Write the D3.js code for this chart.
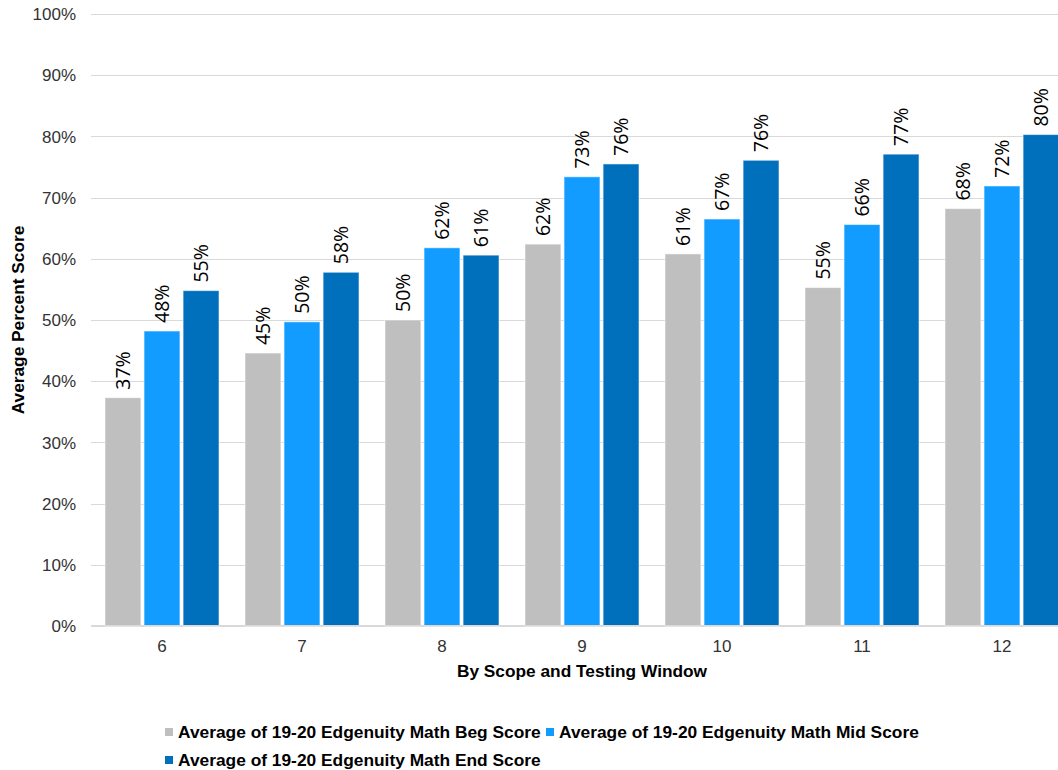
<!DOCTYPE html>
<html><head><meta charset="utf-8">
<script src="https://cdn.jsdelivr.net/npm/d3@7"></script>
<style>
html,body{margin:0;padding:0;background:#fff;overflow:hidden;}
svg{display:block;}
</style></head>
<body>
<svg id="chart" width="1058" height="770"></svg>
<script>
const categories = ["6","7","8","9","10","11","12"];
const seriesNames = [
  "Average of 19-20 Edgenuity Math Beg Score",
  "Average of 19-20 Edgenuity Math Mid Score",
  "Average of 19-20 Edgenuity Math End Score"
];
const begScores = [37.3, 44.6, 50.0, 62.4, 60.8, 55.3, 68.2];
const midScores = [48.2, 49.7, 61.8, 73.4, 66.5, 65.6, 71.9];
const endScores = [54.8, 57.8, 60.6, 75.5, 76.1, 77.1, 80.3];
const yTicks = [0,10,20,30,40,50,60,70,80,90,100];
const colors = ["#BFBFBF", "#129CFF", "#0070BC"];

const series = [begScores, midScores, endScores];
const svg = d3.select("#chart");
const AX = "Liberation Sans, Arial, sans-serif";

const x = d3.scaleBand().domain(categories).range([92, 1072]);
const xi = d3.scaleBand().domain([0,1,2]).range([-57, 57]).paddingInner(0.08);
const y = d3.scaleLinear().domain([0, 100]).range([626, 14]);

// gridlines
svg.append("g").selectAll("line").data(yTicks).join("line")
  .attr("x1", 91).attr("x2", 1058)
  .attr("y1", d => Math.round(y(d)) + 0.5).attr("y2", d => Math.round(y(d)) + 0.5)
  .attr("stroke", "#D9D9D9").attr("stroke-width", 1);

// y tick labels
svg.append("g").selectAll("text").data(yTicks).join("text")
  .attr("x", 76).attr("y", d => y(d)).attr("dy", "0.36em")
  .attr("text-anchor", "end")
  .attr("font-family", AX).attr("font-size", 17).attr("fill", "#333")
  .text(d => d + "%");

// bars
const groups = svg.append("g").selectAll("g").data(categories).join("g")
  .attr("transform", c => `translate(${x(c) + x.bandwidth()/2},0)`);

groups.each(function(c, ci) {
  const g = d3.select(this);
  series.forEach((vals, si) => {
    const v = vals[ci];
    g.append("rect")
      .attr("x", xi(si)).attr("width", xi.bandwidth())
      .attr("y", y(v)).attr("height", y(0) - y(v))
      .attr("fill", colors[si])
      .attr("stroke", "rgba(255,255,255,0.55)").attr("stroke-width", 1);
    g.append("text")
      .attr("transform", `translate(${xi(si) + xi.bandwidth()/2},${y(v) - 8}) rotate(-90)`)
      .attr("dy", "0.35em")
      .attr("text-anchor", "start")
      .attr("font-family", "Open Sans, Noto Sans, sans-serif").attr("font-size", 19.5)
      .attr("fill", "#000")
      .text(Math.round(v) + "%");
  });
});

// x axis line
svg.append("line").attr("x1", 91).attr("x2", 1058)
  .attr("y1", 625.5).attr("y2", 625.5).attr("stroke", "#D9D9D9").attr("stroke-width", 1);

// x tick labels
svg.append("g").selectAll("text").data(categories).join("text")
  .attr("x", c => x(c) + x.bandwidth()/2).attr("y", 652)
  .attr("text-anchor", "middle")
  .attr("font-family", AX).attr("font-size", 17).attr("fill", "#333")
  .text(c => c);

// axis titles
svg.append("text").attr("x", 582).attr("y", 676.5).attr("text-anchor", "middle")
  .attr("font-family", AX).attr("font-size", 17.3).attr("font-weight", "bold").attr("fill", "#000")
  .text("By Scope and Testing Window");
svg.append("text").attr("transform", "translate(24,320) rotate(-90)").attr("text-anchor", "middle")
  .attr("font-family", AX).attr("font-size", 17.3).attr("font-weight", "bold").attr("fill", "#000")
  .text("Average Percent Score");

// legend
const legendPos = [[165, 737.5], [546, 737.5], [165, 765.5]];
seriesNames.forEach((n, i) => {
  const [lx, ly] = legendPos[i];
  svg.append("rect").attr("x", lx).attr("y", ly - 9.5).attr("width", 8).attr("height", 8)
    .attr("fill", colors[i]);
  svg.append("text").attr("x", lx + 13).attr("y", ly)
    .attr("font-family", AX).attr("font-size", 17.35).attr("font-weight", "bold").attr("fill", "#000")
    .text(n);
});
</script>
</body></html>
